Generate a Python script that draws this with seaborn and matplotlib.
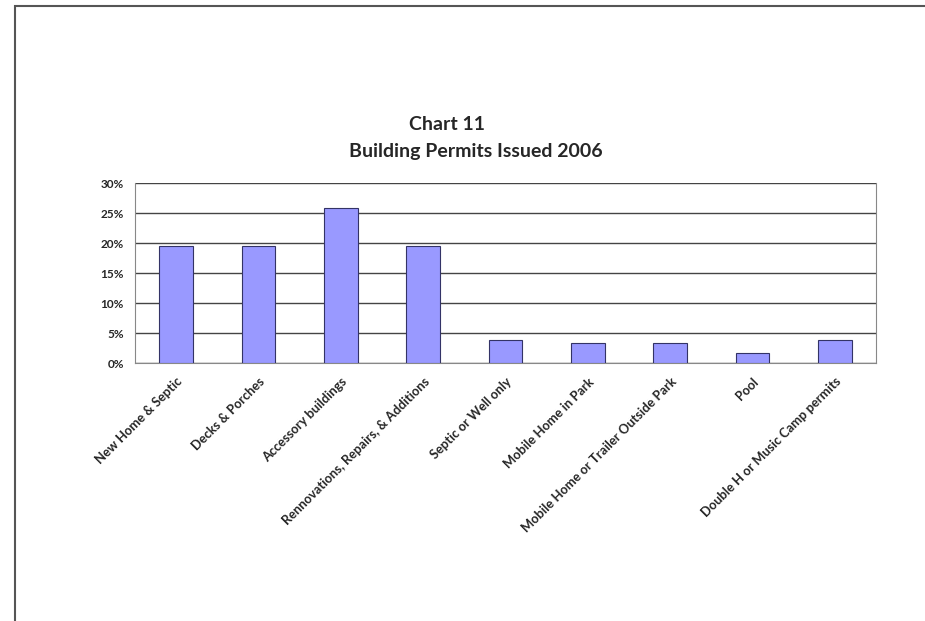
import matplotlib
matplotlib.use("Agg")
import matplotlib.pyplot as plt
import seaborn as sns
import pandas as pd
from matplotlib.patches import Rectangle
from matplotlib.ticker import FuncFormatter

categories = ["New Home & Septic", "Decks & Porches", "Accessory buildings",
              "Rennovations, Repairs, & Additions", "Septic or Well only",
              "Mobile Home in Park", "Mobile Home or Trailer Outside Park",
              "Pool", "Double H or Music Camp permits"]
values = [19.5, 19.5, 25.8, 19.5, 3.9, 3.4, 3.4, 1.7, 3.9]
yticks = [0, 5, 10, 15, 20, 25, 30]

sns.set_theme(style="white")
plt.rcParams['font.family'] = ['Lato', 'DejaVu Sans']

df = pd.DataFrame({"cat": categories, "val": values})

fig = plt.figure(figsize=(9.25, 6.21), dpi=100)
W, H = 925, 621
ax = fig.add_axes([135 / W, 1 - 363 / H, (876 - 135) / W, (363 - 183) / H])

sns.barplot(data=df, x="cat", y="val", ax=ax, color="#9999FF", saturation=1,
            width=0.41, edgecolor="#333366", linewidth=0.8, zorder=3)

ax.set_ylim(0, 30)
ax.set_yticks(yticks)
ax.yaxis.set_major_formatter(FuncFormatter(lambda v, p: f"{int(v)}%"))
ax.grid(axis="y", color="#444444", linewidth=1.0, zorder=0)
ax.set_axisbelow(True)
for s in ["left", "right", "bottom"]:
    ax.spines[s].set_color("#888888")
    ax.spines[s].set_linewidth(0.8)
ax.spines["top"].set_visible(False)
ax.set_xlabel("")
ax.set_ylabel("")
ax.tick_params(axis="y", labelsize=8.5, pad=8, length=0)
ax.tick_params(axis="x", labelsize=9.3, pad=9, length=0)
for lbl in ax.get_yticklabels():
    lbl.set_fontweight("bold")
ax.set_xticks(range(len(categories)))
ax.set_xticklabels(categories, rotation=45, ha="right", va="top",
                   rotation_mode="anchor", fontweight="bold")

fig.text(447 / W, 1 - 124 / H, "Chart 11", ha="center", va="center",
         fontsize=14, fontweight="bold")
fig.text(476 / W, 1 - 152 / H, "Building Permits Issued 2006", ha="center",
         va="center", fontsize=14, fontweight="bold")

# outer frame
fig.add_artist(Rectangle((15 / W, -0.05), 1.2, 1 - 6 / H + 0.05,
                         transform=fig.transFigure, fill=False,
                         edgecolor="#555555", linewidth=1.5))

fig.savefig("out.png", dpi=100)
